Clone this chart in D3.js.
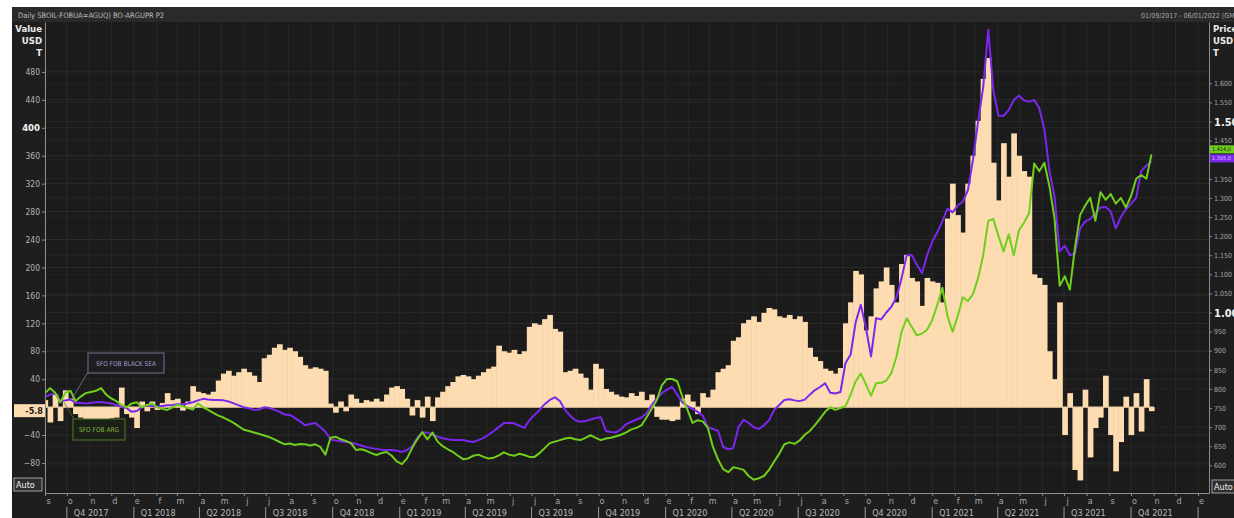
<!DOCTYPE html>
<html>
<head>
<meta charset="utf-8">
<script src="https://cdn.jsdelivr.net/npm/d3@7"></script>
<style>
  body { margin: 0; background: #ffffff; }
  svg { display: block; }
  text { font-family: "Liberation Sans Narrow", "DejaVu Sans Condensed", "Liberation Sans", sans-serif; }
</style>
</head>
<body>
<svg id="chart" width="1234" height="518"></svg>
<script>
// weekly samples, first one on 1 Sep 2017
const startDate = new Date(2017, 8, 1)
const endDate = new Date(2022, 0, 16)

// spread SFO FOB BLACK SEA - SFO FOB ARG, USD/T (left axis, bars)
const spread = [
  10, -22, 18, -20, 24, 12, -10, -15, -17, -18,
  -17, -18, -17, -16, -15, 28, -10, -15, -30, 8,
  -6, 8, -4, 6, 20, 10, 12, -5, 8, 30,
  22, 20, 18, 22, 38, 48, 52, 45, 50, 55,
  50, 45, 36, 70, 75, 85, 90, 82, 85, 80,
  72, 60, 55, 57, 55, 52, 5, -8, 8, -6,
  18, 12, 6, 10, 8, 12, 8, 18, 28, 30,
  26, 12, -12, 10, -15, 15, -20, 14, 22, 30,
  36, 44, 46, 44, 40, 45, 50, 55, 58, 88,
  80, 78, 82, 76, 80, 115, 120, 118, 126, 132,
  112, 108, 50, 52, 55, 48, 42, 25, 62, 55,
  26, 22, 18, 15, 14, 20, 16, 22, 10, 18,
  -14, -18, -18, -20, -18, 12, 18, 8, -10, 20,
  14, 25, 50, 55, 60, 95, 100, 120, 125, 130,
  122, 135, 142, 140, 130, 128, 132, 126, 130, 122,
  85, 72, 66, 55, 52, 48, 56, 120, 150, 195,
  190, 110, 130, 170, 180, 200, 175, 150, 205, 218,
  185, 180, 145, 185, 180, 178, 150, 270, 320, 275,
  250, 320, 360, 410, 470, 500, 350, 296, 378, 330,
  392, 360, 338, 330, 190, 185, 175, 80, 40, 150,
  -40, 20, -90, -105, 25, -72, -30, -15, 45, -40,
  -92, -50, 15, -40, 20, -35, 40, -5.8
]

// SFO FOB BLACK SEA, USD/T (right axis)
const blackSea = [
  779, 785, 788, 768, 770, 772, 764, 763, 762, 764,
  765, 766, 764, 762, 758, 753, 750, 740, 742, 752,
  757, 755, 753, 755, 757, 758, 760, 760, 762, 765,
  770, 774, 772, 771, 771, 770, 767, 762, 757, 752,
  749, 745, 746, 752, 750, 745, 740, 733, 732, 724,
  715, 705, 708, 711, 700, 688, 668, 665, 663, 661,
  659, 656, 652, 648, 645, 643, 641, 640, 640, 638,
  635, 640, 650, 672, 685, 686, 680, 675, 671, 668,
  666, 666, 666, 663, 661, 666, 672, 680, 690, 700,
  711, 711, 710, 704, 698, 718, 732, 745, 760, 771,
  778, 768, 745, 730, 718, 714, 716, 720, 724, 726,
  690, 687, 686, 695, 708, 714, 720, 725, 737, 758,
  775, 789, 798, 805, 785, 765, 755, 748, 740, 730,
  700, 695, 690, 648, 642, 645, 700, 719, 711, 700,
  695, 705, 718, 745, 758, 771, 773, 770, 768, 772,
  785, 797, 805, 815, 790, 788, 792, 868, 890, 975,
  1020, 960, 885, 985, 982, 1000, 1015, 1040, 1090, 1150,
  1150, 1125, 1103, 1150, 1185, 1210, 1240, 1272, 1262, 1280,
  1290, 1320, 1400, 1500, 1590, 1740, 1580, 1515, 1515, 1530,
  1556, 1568, 1555, 1552, 1556, 1535, 1480, 1370, 1303, 1160,
  1175, 1150, 1155, 1220, 1238, 1245, 1260, 1275, 1276, 1265,
  1220, 1250, 1270, 1285, 1300, 1370, 1385, 1395
]

// SFO FOB ARG, USD/T (right axis)
const arg = [
  789, 802, 790, 765, 790, 795, 768, 780, 789, 792,
  795, 802, 785, 775, 768, 758, 752, 762, 765, 752,
  758, 762, 752, 748, 745, 752, 758, 755, 750, 746,
  762, 752, 745, 737, 730, 725, 718, 711, 702, 693,
  690, 686, 682, 678, 674, 668, 661, 655, 657, 653,
  656, 655, 652, 655, 648, 628, 672, 675, 668, 664,
  658, 640, 642, 638, 632, 627, 632, 635, 625, 610,
  603, 618, 645, 668, 687, 668, 686, 662, 650, 642,
  635, 625, 616, 618, 625, 628, 622, 618, 620, 626,
  634, 628, 625, 630, 627, 622, 622, 632, 645, 658,
  662, 666, 670, 672, 668, 666, 672, 679, 672, 666,
  670, 672, 676, 680, 686, 694, 698, 705, 726, 748,
  771, 810, 826, 826, 820, 780, 745, 711, 718, 715,
  698, 648, 615, 590, 582, 595, 592, 588, 572, 562,
  566, 572, 588, 610, 630, 655, 660, 656, 665, 680,
  690, 705, 722, 740, 752, 745, 750, 755, 785, 820,
  840, 812, 782, 815, 816, 822, 842, 885, 950, 985,
  962, 940, 945, 955, 980, 1020, 1065, 990, 950, 990,
  1040, 1030, 1048, 1090, 1150, 1240, 1245, 1200, 1160, 1205,
  1150, 1215, 1235, 1260, 1390, 1370, 1392, 1330, 1245, 1070,
  1095, 1060, 1170, 1255, 1280, 1300, 1240, 1315, 1295, 1310,
  1285, 1300, 1275, 1305, 1350, 1360, 1350, 1414
]

const monthLetters = ["e", "f", "m", "a", "m", "j", "j", "a", "s", "o", "n", "d"]
const leftTicks = [-80, -40, 40, 80, 120, 160, 200, 240, 280, 320, 360, 400, 440, 480]
const rightTicks = [600, 650, 700, 750, 800, 850, 900, 950, 1000, 1050, 1100, 1150, 1200, 1250, 1300, 1350, 1400, 1450, 1500, 1550, 1600]
const titleText = "Daily SBOIL-FOBUA=AGUQ) BO-ARGUPR P2"
const rangeText = "01/09/2017 - 06/01/2022 (GMT)"
const seriesNames = ["SFO FOB BLACK SEA", "SFO FOB ARG"]

window.onload = () => {
  draw_chart()
}

function draw_chart() {
  var svg = d3.select("#chart"),
    width = +svg.attr("width"),
    height = +svg.attr("height")
  var margin = {top: 22, right: 25, bottom: 25, left: 45}
  var x0 = margin.left, x1 = width - margin.right
  var y0 = margin.top, y1 = height - margin.bottom

  // colours
  var purple = "#7b27ee", green = "#6fcf1b", peach = "#fcdcb0"

  var x = d3.scaleTime().domain([startDate, endDate]).range([x0, x1])
  var yL = d3.scaleLinear().domain([-123, 551.5]).range([y1, y0])
  var yR = d3.scaleLinear().domain([527.5, 1760.5]).range([y1, y0])

  var dates = spread.map((v, i) => d3.timeDay.offset(startDate, 7 * i))

  // panel + header strip + plot area
  svg.append("rect").attr("x", 12).attr("y", 7).attr("width", width - 12).attr("height", height - 7).attr("fill", "#1e1e1e")
  svg.append("rect").attr("x", 12).attr("y", 7).attr("width", width - 12).attr("height", 15).attr("fill", "#2a2a2a")
  svg.append("rect").attr("x", x0).attr("y", y0).attr("width", x1 - x0).attr("height", y1 - y0).attr("fill", "#1b1b1b")

  svg.append("text").attr("x", 18).attr("y", 17.5).attr("font-size", 7.5).attr("fill", "#bdbdbd").text(titleText)
  svg.append("text").attr("x", 1141).attr("y", 17.5).attr("font-size", 7).attr("fill", "#a8a8a8").text(rangeText)

  // grid
  var months = d3.timeMonth.range(startDate, endDate)
  var grid = svg.append("g")
  grid.selectAll(".vgrid").data(months).enter().append("line")
    .attr("x1", d => x(d)).attr("x2", d => x(d))
    .attr("y1", y0).attr("y2", y1)
    .attr("stroke", "#292929").attr("stroke-width", 1)
  grid.selectAll(".hgridR").data(rightTicks).enter().append("line")
    .attr("x1", x0).attr("x2", x1)
    .attr("y1", d => yR(d)).attr("y2", d => yR(d))
    .attr("stroke", "#252525").attr("stroke-width", 1)
  grid.selectAll(".hgridL").data(leftTicks).enter().append("line")
    .attr("x1", x0).attr("x2", x1)
    .attr("y1", d => yL(d)).attr("y2", d => yL(d))
    .attr("stroke", "#2c2c2c").attr("stroke-width", 1)

  svg.append("clipPath").attr("id", "plotClip")
    .append("rect").attr("x", x0 + 1).attr("y", y0).attr("width", x1 - x0 - 1).attr("height", y1 - y0)
  var plot = svg.append("g").attr("clip-path", "url(#plotClip)")

  // spread bars
  var barW = x(dates[1]) - x(dates[0])
  plot.append("g")
    .selectAll("rect")
    .data(spread)
    .enter()
    .append("rect")
      .attr("x", (d, i) => x(dates[i]) - barW / 2)
      .attr("width", barW + 0.6)
      .attr("y", d => Math.min(yL(d), yL(0)))
      .attr("height", d => Math.abs(yL(d) - yL(0)))
      .attr("fill", peach)

  // zero line under the bars
  plot.append("line")
    .attr("x1", x0).attr("x2", x(dates[dates.length - 1]) + barW / 2)
    .attr("y1", yL(0)).attr("y2", yL(0))
    .attr("stroke", "#f3d6aa").attr("stroke-width", 1.2)

  var line = d3.line()
    .x((d, i) => x(dates[i]))
    .y(d => yR(d))

  plot.append("path")
    .datum(blackSea)
    .attr("fill", "none")
    .attr("stroke", purple)
    .attr("stroke-width", 2)
    .attr("stroke-linejoin", "round")
    .attr("d", line)

  plot.append("path")
    .datum(arg)
    .attr("fill", "none")
    .attr("stroke", green)
    .attr("stroke-width", 2)
    .attr("stroke-linejoin", "round")
    .attr("d", line)

  // left axis
  var axL = svg.append("g")
    .attr("transform", "translate(" + x0 + ",0)")
    .call(d3.axisLeft(yL).tickValues(leftTicks).tickSize(3).tickSizeOuter(0).tickPadding(2))
  axL.select(".domain").attr("stroke", "#8c8c8c")
  axL.selectAll(".tick line").attr("stroke", "#8c8c8c")
  axL.selectAll(".tick text")
    .attr("fill", d => d == 400 ? "#f2f2f2" : "#b3b3b3")
    .attr("font-size", d => d == 400 ? 9.5 : 8.5)
    .attr("font-weight", d => d == 400 ? "bold" : "normal")
    .style("font-family", "'Liberation Sans Narrow','DejaVu Sans Condensed',sans-serif")

  // last value tag positions on the right axis (tick labels under them are hidden)
  var gTagY = yR(arg[arg.length - 1]) - 5
  var pTagY = gTagY + 9

  // right axis
  var fmtRight = p => p >= 1000 ? "1." + d3.format("03d")(p - 1000) : String(p)
  var axR = svg.append("g")
    .attr("transform", "translate(" + x1 + ",0)")
    .call(d3.axisRight(yR).tickValues(rightTicks).tickSize(3).tickSizeOuter(0).tickPadding(2).tickFormat(fmtRight))
  axR.select(".domain").attr("stroke", "#8c8c8c")
  axR.selectAll(".tick line").attr("stroke", "#8c8c8c")
  axR.selectAll(".tick text")
    .attr("fill", d => d % 500 == 0 ? "#f2f2f2" : "#a5a5a5")
    .attr("font-size", d => d % 500 == 0 ? 11 : 7)
    .attr("font-weight", d => d % 500 == 0 ? "bold" : "normal")
    .attr("display", d => (yR(d) > gTagY - 6 && yR(d) < pTagY + 6) ? "none" : null)
    .style("font-family", "'Liberation Sans Narrow','DejaVu Sans Condensed',sans-serif")

  // bottom axis: month letters
  var axB = svg.append("g")
    .attr("transform", "translate(0," + y1 + ")")
    .call(d3.axisBottom(x).ticks(d3.timeMonth.every(1)).tickSize(3).tickSizeOuter(0).tickPadding(2)
      .tickFormat(d => monthLetters[d.getMonth()]))
  axB.select(".domain").attr("stroke", "#8c8c8c")
  axB.selectAll(".tick line").attr("stroke", "#8c8c8c")
  axB.selectAll(".tick text")
    .attr("dx", 3)
    .attr("fill", "#a8a8a8")
    .attr("font-size", 9)
    .style("font-family", "'Liberation Sans Narrow','DejaVu Sans Condensed',sans-serif")

  // quarter row: dividers at every quarter start, labels only where a full label fits
  var quarters = months.filter(d => d.getMonth() % 3 == 0)
  var qG = svg.append("g")
  qG.selectAll("line").data(quarters).enter().append("line")
    .attr("x1", d => x(d)).attr("x2", d => x(d))
    .attr("y1", 507).attr("y2", 518)
    .attr("stroke", "#9a9a9a")
  qG.selectAll("text").data(quarters.filter(d => x(d) + 45 < x1)).enter().append("text")
    .attr("x", d => x(d) + 7).attr("y", 516)
    .attr("font-size", 9).attr("fill", "#b8b8b8")
    .text(d => "Q" + (Math.floor(d.getMonth() / 3) + 1) + " " + d.getFullYear())

  // axis titles
  var tl = svg.append("g").attr("font-size", 9.5).attr("font-weight", "bold").attr("fill", "#ececec")
  ;["Value", "USD", "T"].forEach((t, i) => {
    tl.append("text").attr("x", 42).attr("y", 32 + i * 12).attr("text-anchor", "end").text(t)
  })
  ;["Price", "USD", "T"].forEach((t, i) => {
    tl.append("text").attr("x", 1213).attr("y", 32 + i * 12).text(t)
  })

  // last value tag for spread on left axis
  var lastSpread = spread[spread.length - 1]
  svg.append("rect").attr("x", 14).attr("y", yL(lastSpread) - 7).attr("width", 31).attr("height", 13).attr("fill", peach)
  svg.append("text").attr("x", 43).attr("y", yL(lastSpread) + 3)
    .attr("text-anchor", "end").attr("font-size", 9).attr("font-weight", "bold").attr("fill", "#1a1a1a")
    .text(String(lastSpread))

  // last value tags on right axis
  var fmtTag = v => "1." + d3.format("03d")(Math.floor(v) - 1000) + ",0"
  svg.append("rect").attr("x", 1210).attr("y", gTagY - 4).attr("width", 26).attr("height", 8).attr("fill", green)
  svg.append("text").attr("x", 1212).attr("y", gTagY + 2).attr("font-size", 5.5).attr("fill", "#1a1a1a")
    .text(fmtTag(arg[arg.length - 1]))
  svg.append("rect").attr("x", 1210).attr("y", pTagY - 4).attr("width", 26).attr("height", 8).attr("fill", purple)
  svg.append("text").attr("x", 1212).attr("y", pTagY + 2).attr("font-size", 5.5).attr("fill", "#d8c8ff")
    .text(fmtTag(blackSea[blackSea.length - 1]))

  // series annotations
  var ann = svg.append("g")
  ann.append("line").attr("x1", 88).attr("y1", 372).attr("x2", 71).attr("y2", yR(blackSea[4]))
    .attr("stroke", "#7c7c98").attr("stroke-width", 0.8)
  ann.append("rect").attr("x", 88).attr("y", 353).attr("width", 76).attr("height", 20)
    .attr("fill", "#1e1e22").attr("stroke", "#74748e").attr("stroke-width", 1)
  ann.append("text").attr("x", 126).attr("y", 365.5).attr("text-anchor", "middle")
    .attr("font-size", 6.5).attr("fill", "#9d9dc2").text(seriesNames[0])
  ann.append("line").attr("x1", 74).attr("y1", 419).attr("x2", 64).attr("y2", yR(arg[3]))
    .attr("stroke", "#4f7a2b").attr("stroke-width", 0.8)
  ann.append("rect").attr("x", 73).attr("y", 419).attr("width", 52).attr("height", 21)
    .attr("fill", "#1b1f18").attr("stroke", "#4f7a2b").attr("stroke-width", 1)
  ann.append("text").attr("x", 99).attr("y", 432).attr("text-anchor", "middle")
    .attr("font-size", 6.5).attr("fill", "#7bb83c").text(seriesNames[1])

  // Auto buttons
  ;[[14, 478, 28], [1212, 480, 30]].forEach(b => {
    svg.append("rect").attr("x", b[0]).attr("y", b[1]).attr("width", b[2]).attr("height", 13)
      .attr("fill", "#2e2e2e").attr("stroke", "#a0a0a0").attr("stroke-width", 1)
    svg.append("text").attr("x", b[0] + 2).attr("y", b[1] + 10).attr("font-size", 9).attr("fill", "#f0f0f0").text("Auto")
  })
}
</script>
</body>
</html>
